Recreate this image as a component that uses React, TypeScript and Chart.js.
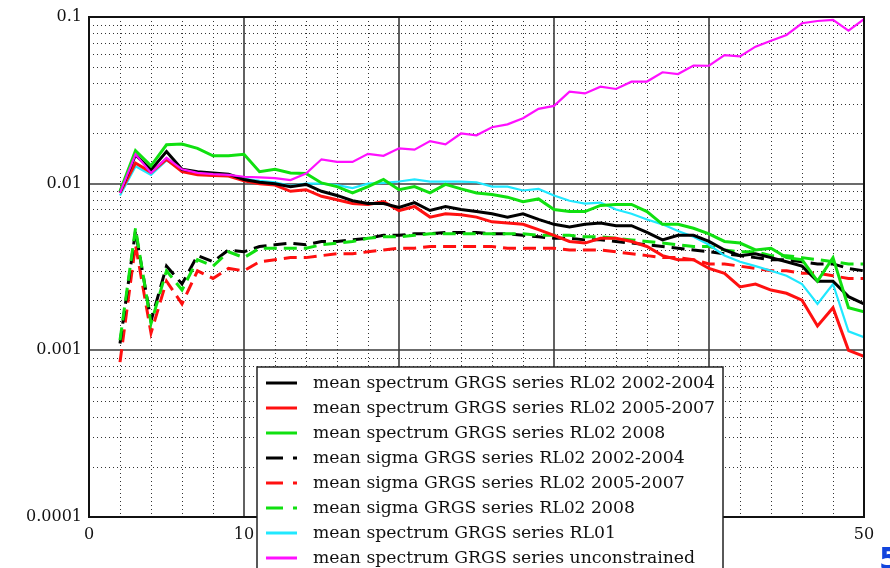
import React, { useEffect, useRef } from 'react';
import { Chart, registerables } from 'chart.js';

Chart.register(...registerables);

// ---------------- data ----------------
const degrees = [2, 3, 4, 5, 6, 7, 8, 9, 10, 11, 12, 13, 14, 15, 16, 17, 18, 19, 20, 21, 22, 23, 24, 25, 26,
  27, 28, 29, 30, 31, 32, 33, 34, 35, 36, 37, 38, 39, 40, 41, 42, 43, 44, 45, 46, 47, 48, 49, 50];

const spectrumRL02_0204 = [0.0089, 0.0149, 0.0121, 0.0156, 0.0122, 0.0118, 0.0116, 0.0114, 0.0106, 0.0102,
  0.0100, 0.0096, 0.0099, 0.0090, 0.0085, 0.0079, 0.0076, 0.0076, 0.0072, 0.0077, 0.0069, 0.0073, 0.0070,
  0.0068, 0.0066, 0.0063, 0.0066, 0.0061, 0.0057, 0.0055, 0.0057, 0.0058, 0.0056, 0.0056, 0.0051, 0.0046,
  0.0049, 0.0049, 0.0045, 0.0040, 0.0037, 0.0038, 0.0036, 0.0034, 0.0032, 0.0026, 0.0026, 0.0021, 0.0019];

const spectrumRL02_0507 = [0.0088, 0.0133, 0.0117, 0.0140, 0.0118, 0.0113, 0.0112, 0.0111, 0.0104, 0.0100,
  0.0098, 0.0090, 0.0092, 0.0084, 0.0080, 0.0076, 0.0075, 0.0078, 0.0069, 0.0073, 0.0063, 0.0066, 0.0065,
  0.0063, 0.0059, 0.0058, 0.0057, 0.0053, 0.0049, 0.0045, 0.0044, 0.0047, 0.0047, 0.0045, 0.0042, 0.0037,
  0.0035, 0.0035, 0.0031, 0.0029, 0.0024, 0.0025, 0.0023, 0.0022, 0.0020, 0.0014, 0.0018, 0.0010, 0.00092];

const spectrumRL02_2008 = [0.0090, 0.0158, 0.0128, 0.0171, 0.0173, 0.0163, 0.0147, 0.0147, 0.0150, 0.0118,
  0.0122, 0.0116, 0.0115, 0.0101, 0.0096, 0.0088, 0.0096, 0.0106, 0.0092, 0.0096, 0.0088, 0.0099, 0.0093,
  0.0088, 0.0086, 0.0083, 0.0078, 0.0081, 0.0070, 0.0068, 0.0068, 0.0074, 0.0075, 0.0075, 0.0068, 0.0057,
  0.0057, 0.0054, 0.0050, 0.0045, 0.0044, 0.0040, 0.0041, 0.0036, 0.0035, 0.0026, 0.0036, 0.0018, 0.0017];

const sigmaRL02_0204 = [0.0011, 0.0052, 0.0015, 0.0032, 0.0025, 0.0037, 0.0034, 0.0040, 0.0039, 0.0042,
  0.0043, 0.0044, 0.0043, 0.0045, 0.0045, 0.0046, 0.0047, 0.0049, 0.0049, 0.0050, 0.0050, 0.0051, 0.0051,
  0.0051, 0.0050, 0.0050, 0.0049, 0.0048, 0.0047, 0.0047, 0.0046, 0.0046, 0.0045, 0.0044, 0.0043, 0.0042,
  0.0041, 0.0040, 0.0039, 0.0038, 0.0037, 0.0036, 0.0035, 0.0035, 0.0034, 0.0033, 0.0033, 0.0031, 0.0030];

const sigmaRL02_0507 = [0.00085, 0.0043, 0.00127, 0.0026, 0.0019, 0.0030, 0.0027, 0.0031, 0.0030, 0.0034,
  0.0035, 0.0036, 0.0036, 0.0037, 0.0038, 0.0038, 0.0039, 0.0040, 0.0041, 0.0041, 0.0042, 0.0042, 0.0042,
  0.0042, 0.0042, 0.0041, 0.0041, 0.0041, 0.0041, 0.0040, 0.0040, 0.0040, 0.0039, 0.0038, 0.0037, 0.0036,
  0.0036, 0.0035, 0.0033, 0.0033, 0.0032, 0.0031, 0.0030, 0.0030, 0.0029, 0.0029, 0.0028, 0.0027, 0.0027];

const sigmaRL02_2008 = [0.00115, 0.0054, 0.00145, 0.0030, 0.0023, 0.0035, 0.0032, 0.0039, 0.0036, 0.0041,
  0.0041, 0.0041, 0.0041, 0.0043, 0.0044, 0.0045, 0.0047, 0.0048, 0.0048, 0.0049, 0.0050, 0.0050, 0.0050,
  0.0050, 0.0050, 0.0050, 0.0050, 0.0049, 0.0049, 0.0049, 0.0048, 0.0048, 0.0047, 0.0046, 0.0045, 0.0044,
  0.0043, 0.0042, 0.0042, 0.0040, 0.0039, 0.0039, 0.0037, 0.0037, 0.0036, 0.0035, 0.0034, 0.0033, 0.0033];

const spectrumRL01 = [0.0085, 0.0127, 0.0113, 0.0138, 0.0120, 0.0114, 0.0112, 0.0111, 0.0107, 0.0104,
  0.0102, 0.0097, 0.0100, 0.0100, 0.0098, 0.0094, 0.0100, 0.0101, 0.0103, 0.0106, 0.0103, 0.0103, 0.0103,
  0.0102, 0.0096, 0.0096, 0.0091, 0.0093, 0.0085, 0.0079, 0.0076, 0.0077, 0.0070, 0.0066, 0.0061, 0.0057,
  0.0052, 0.0048, 0.0043, 0.0037, 0.0034, 0.0032, 0.0030, 0.0028, 0.0025, 0.0019, 0.0025, 0.0013, 0.0012];

const spectrumUnconstrained = [0.0088, 0.0150, 0.0116, 0.0143, 0.0122, 0.0116, 0.0114, 0.0113, 0.0110, 0.0109,
  0.0108, 0.0105, 0.0115, 0.0140, 0.0135, 0.0135, 0.0151, 0.0147, 0.0163, 0.0160, 0.0180, 0.0172, 0.0200,
  0.0195, 0.0218, 0.0227, 0.0247, 0.0281, 0.0293, 0.0356, 0.0348, 0.0382, 0.0370, 0.0409, 0.0410, 0.0466,
  0.0455, 0.0511, 0.0510, 0.0591, 0.0580, 0.0664, 0.0721, 0.0780, 0.0917, 0.0946, 0.0960, 0.0828, 0.0970];

const legendLabels = [
  'mean spectrum GRGS series RL02 2002-2004',
  'mean spectrum GRGS series RL02 2005-2007',
  'mean spectrum GRGS series RL02 2008',
  'mean sigma GRGS series RL02 2002-2004',
  'mean sigma GRGS series RL02 2005-2007',
  'mean sigma GRGS series RL02 2008',
  'mean spectrum GRGS series RL01',
  'mean spectrum GRGS series unconstrained',
];

const yLabelTicks = [0.0001, 0.001, 0.01, 0.1];
const xLabelTicks = [0, 10, 20, 30, 40, 50];
const xMajorGrid = [10, 20, 30, 40];
const xMinorGrid = [2, 4, 6, 8, 12, 14, 16, 18, 22, 24, 26, 28, 32, 34, 36, 38, 42, 44, 46, 48];

// ---------------- styles ----------------
const BLACK = '#000000';
const RED = '#ff1010';
const GREEN = '#10e010';
const CYAN = '#20e8ff';
const MAGENTA = '#ff10ff';
const DASH = [13, 7];
const SERIF = '"DejaVu Serif", serif';

const seriesDefs = [
  { data: spectrumRL02_0204, color: BLACK, dash: [] as number[], width: 3, order: 2 },
  { data: spectrumRL02_0507, color: RED, dash: [] as number[], width: 3, order: 3 },
  { data: spectrumRL02_2008, color: GREEN, dash: [] as number[], width: 3, order: 1 },
  { data: sigmaRL02_0204, color: BLACK, dash: DASH, width: 3, order: 6 },
  { data: sigmaRL02_0507, color: RED, dash: DASH, width: 3, order: 7 },
  { data: sigmaRL02_2008, color: GREEN, dash: DASH, width: 3, order: 5 },
  { data: spectrumRL01, color: CYAN, dash: [] as number[], width: 2.2, order: 4 },
  { data: spectrumUnconstrained, color: MAGENTA, dash: [] as number[], width: 2.2, order: 0 },
];

const crisp = (v: number) => Math.round(v) + 0.5;

const gridPlugin = {
  id: 'customGrid',
  beforeDatasetsDraw(chart: any) {
    const { ctx, chartArea: a, scales } = chart;
    const xs = scales.x;
    const ys = scales.y;
    ctx.save();
    // minor dotted grid
    ctx.strokeStyle = '#333333';
    ctx.lineWidth = 1;
    ctx.setLineDash([1, 3]);
    for (const v of xMinorGrid) {
      const px = crisp(xs.getPixelForValue(v));
      ctx.beginPath();
      ctx.moveTo(px, a.top);
      ctx.lineTo(px, a.bottom);
      ctx.stroke();
    }
    for (let k = -4; k <= -2; k++) {
      for (let m = 2; m <= 9; m++) {
        const py = crisp(ys.getPixelForValue(m * Math.pow(10, k)));
        ctx.beginPath();
        ctx.moveTo(a.left, py);
        ctx.lineTo(a.right, py);
        ctx.stroke();
      }
    }
    // major solid grid
    ctx.setLineDash([]);
    ctx.strokeStyle = '#3a3a3a';
    ctx.lineWidth = 1.6;
    for (const v of xMajorGrid) {
      const px = Math.round(xs.getPixelForValue(v));
      ctx.beginPath();
      ctx.moveTo(px, a.top);
      ctx.lineTo(px, a.bottom);
      ctx.stroke();
    }
    for (const v of [0.001, 0.01]) {
      const py = Math.round(ys.getPixelForValue(v));
      ctx.beginPath();
      ctx.moveTo(a.left, py);
      ctx.lineTo(a.right, py);
      ctx.stroke();
    }
    ctx.restore();
  },
  afterDatasetsDraw(chart: any) {
    const { ctx, chartArea: a } = chart;
    ctx.save();
    ctx.strokeStyle = '#111111';
    ctx.lineWidth = 2;
    ctx.setLineDash([]);
    ctx.strokeRect(Math.round(a.left), Math.round(a.top), Math.round(a.right - a.left), Math.round(a.bottom - a.top));
    ctx.restore();
  },
};

const legendPlugin = {
  id: 'boxLegend',
  afterDraw(chart: any) {
    const { ctx } = chart;
    ctx.save();
    const bx = 257, by = 367, bw = 466, bh = 240;
    ctx.fillStyle = '#ffffff';
    ctx.fillRect(bx, by, bw, bh);
    ctx.strokeStyle = '#222222';
    ctx.lineWidth = 1.5;
    ctx.strokeRect(bx, by, bw, bh);

    ctx.font = `16px ${SERIF}`;
    const w0 = ctx.measureText(legendLabels[0]).width;
    const size = Math.max(12, Math.min(20, (16 * 402) / w0));
    ctx.font = `${size.toFixed(2)}px ${SERIF}`;
    ctx.textBaseline = 'middle';
    ctx.textAlign = 'left';
    seriesDefs.forEach((s, i) => {
      const y = 383 + i * 25;
      ctx.strokeStyle = s.color;
      ctx.lineWidth = 3;
      ctx.setLineDash(s.dash.length ? [17, 10] : []);
      ctx.beginPath();
      ctx.moveTo(266, y);
      ctx.lineTo(297, y);
      ctx.stroke();
      ctx.setLineDash([]);
      ctx.fillStyle = '#111111';
      ctx.fillText(legendLabels[i], 313, y + 1);
    });

    // stray page mark at the bottom-right corner
    ctx.fillStyle = '#1144dd';
    ctx.font = 'bold 30px "DejaVu Sans", sans-serif';
    ctx.textBaseline = 'alphabetic';
    ctx.fillText('5', 879, 569);
    ctx.restore();
  },
};

export default function App() {
  const ref = useRef<HTMLCanvasElement | null>(null);

  useEffect(() => {
    document.body.style.margin = '0';
    const canvas = ref.current;
    if (!canvas) return;

    const datasets = seriesDefs.map((s, i) => ({
      label: legendLabels[i],
      data: degrees.map((d, j) => ({ x: d, y: s.data[j] })),
      borderColor: s.color,
      backgroundColor: s.color,
      borderWidth: s.width,
      borderDash: s.dash,
      pointRadius: 0,
      tension: 0,
      fill: false,
      order: s.order,
    }));

    const chart = new Chart(canvas, {
      type: 'line',
      data: { datasets },
      options: {
        animation: false,
        responsive: false,
        devicePixelRatio: 1,
        layout: { padding: { left: 0, top: 17, right: 26, bottom: 0 } },
        plugins: {
          legend: { display: false },
          tooltip: { enabled: false },
        },
        scales: {
          x: {
            type: 'linear',
            min: 0,
            max: 50,
            afterFit: (scale: any) => { scale.height = 51; },
            afterBuildTicks: (scale: any) => { scale.ticks = xLabelTicks.map((v) => ({ value: v })); },
            ticks: {
              autoSkip: false,
              maxRotation: 0,
              padding: 8,
              color: '#111111',
              font: { family: SERIF, size: 16 },
              callback: (v: any) => String(v),
            },
            grid: { display: false, drawTicks: false },
            border: { display: false },
          },
          y: {
            type: 'logarithmic',
            min: 0.0001,
            max: 0.1,
            afterFit: (scale: any) => { scale.width = 89; },
            afterBuildTicks: (scale: any) => { scale.ticks = yLabelTicks.map((v) => ({ value: v })); },
            ticks: {
              autoSkip: false,
              padding: 7,
              color: '#111111',
              font: { family: SERIF, size: 16 },
              callback: (v: any) => String(Number(v)),
            },
            grid: { display: false, drawTicks: false },
            border: { display: false },
          },
        },
      },
      plugins: [gridPlugin, legendPlugin],
    } as any);

    return () => chart.destroy();
  }, []);

  return (
    <canvas
      ref={ref}
      width={890}
      height={568}
      style={{ display: 'block', width: 890, height: 568 }}
    />
  );
}
